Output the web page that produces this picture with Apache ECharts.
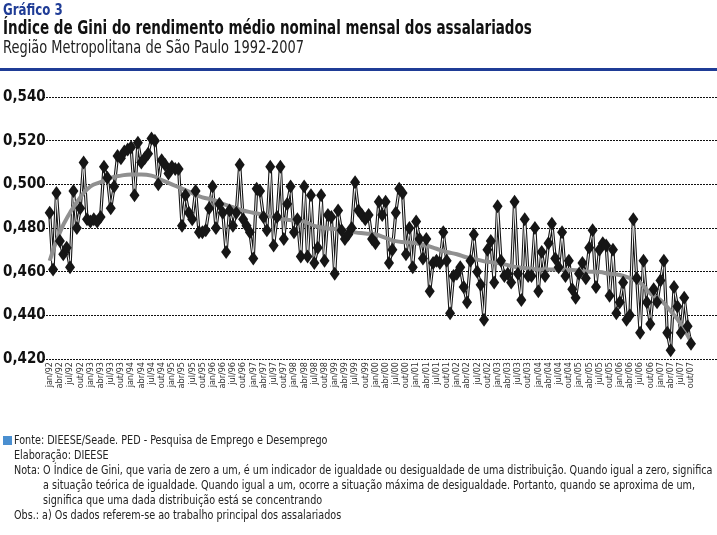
<!DOCTYPE html>
<html>
<head>
<meta charset="utf-8">
<script src="https://cdn.jsdelivr.net/npm/echarts@6/dist/echarts.min.js"></script>
<style>
html,body{margin:0;padding:0;background:#fff;}
#chart{width:717px;height:535px;}
</style>
</head>
<body>
<div id="chart"></div>
<script>
var FONT = "'DejaVu Sans Condensed','Liberation Sans Narrow',sans-serif";

var monthNames = ['jan','fev','mar','abr','mai','jun','jul','ago','set','out','nov','dez'];
var years = ['92','93','94','95','96','97','98','99','00','01','02','03','04','05','06','07'];
var lastMonthIndex2007 = 9; // out/07

var categories = [];
years.forEach(function (yy, yi) {
  monthNames.forEach(function (m, mi) {
    if (yi === years.length - 1 && mi > lastMonthIndex2007) return;
    categories.push(m + '/' + yy);
  });
});

// Monthly Gini index (jan/92 - out/07)
var gini = [
  0.487,0.461,0.496,0.474,0.468,0.471,0.462,0.497,0.480,0.489,0.510,0.484,
  0.483,0.484,0.483,0.485,0.508,0.503,0.489,0.499,0.513,0.512,0.515,0.516,
  0.517,0.495,0.519,0.510,0.512,0.514,0.521,0.520,0.500,0.511,0.509,0.505,
  0.508,0.507,0.507,0.481,0.495,0.487,0.484,0.497,0.478,0.478,0.479,0.489,
  0.499,0.480,0.491,0.487,0.469,0.488,0.481,0.487,0.509,0.484,0.481,0.478,
  0.466,0.498,0.497,0.485,0.479,0.508,0.472,0.485,0.508,0.475,0.491,0.499,
  0.478,0.484,0.467,0.499,0.467,0.495,0.464,0.471,0.495,0.465,0.486,0.485,
  0.459,0.488,0.479,0.475,0.477,0.480,0.501,0.488,0.486,0.484,0.486,0.475,
  0.473,0.492,0.486,0.492,0.464,0.470,0.487,0.498,0.496,0.468,0.480,0.462,
  0.483,0.475,0.466,0.475,0.451,0.464,0.465,0.464,0.478,0.465,0.441,0.458,
  0.459,0.462,0.453,0.446,0.465,0.477,0.460,0.454,0.438,0.470,0.474,0.455,
  0.490,0.465,0.458,0.459,0.455,0.492,0.459,0.447,0.484,0.458,0.458,0.480,
  0.451,0.469,0.458,0.473,0.482,0.466,0.462,0.478,0.458,0.465,0.452,0.448,
  0.459,0.464,0.457,0.471,0.479,0.453,0.470,0.473,0.472,0.449,0.470,0.441,
  0.446,0.455,0.438,0.440,0.484,0.457,0.432,0.465,0.446,0.436,0.452,0.446,
  0.456,0.465,0.432,0.424,0.453,0.444,0.432,0.448,0.435,0.427
];

// Trend line, read quarterly (jan, abr, jul, out of each year)
var trendQuarterly = [
  0.465,0.478,0.487,0.494, 0.499,0.501,0.503,0.504, 0.5045,0.5045,0.504,0.502,
  0.500,0.498,0.496,0.494, 0.493,0.491,0.4895,0.488, 0.487,0.486,0.485,0.484,
  0.4835,0.483,0.481,0.480, 0.4795,0.479,0.478,0.4775, 0.477,0.4755,0.474,0.4735,
  0.473,0.472,0.4705,0.469, 0.468,0.4665,0.4655,0.4645, 0.464,0.463,0.462,0.4615,
  0.461,0.461,0.461,0.4608, 0.4605,0.460,0.4598,0.459, 0.4585,0.457,0.455,0.450,
  0.447,0.442,0.436,0.428
];

var yTicks = { min: 0.42, max: 0.54, step: 0.02 };

var trendData = categories.map(function (c, i) {
  return (i % 3 === 0) ? trendQuarterly[i / 3] : null;
});

var chart = echarts.init(document.getElementById('chart'), null, { renderer: 'canvas' });

var plotTop = 97, plotBottom = 535 - 359;

function txt(x, y, text, font, fill, sx) {
  return {
    type: 'text', x: x, y: y, scaleX: sx, originX: 0, originY: 0,
    style: { text: text, font: font, fill: fill, verticalAlign: 'top', align: 'left' }
  };
}

var FOOT = '12px ' + FONT, FS = 0.893, FC = '#222';

var option = {
  animation: false,
  backgroundColor: '#ffffff',
  textStyle: { fontFamily: FONT },
  grid: [
    { left: 47, right: 26, top: plotTop, bottom: plotBottom, containLabel: false },
    { left: 43, right: 0, top: plotTop, bottom: plotBottom, containLabel: false }
  ],
  xAxis: [
    {
      type: 'category', gridIndex: 0, data: categories, boundaryGap: false,
      axisLine: { show: false }, axisTick: { show: false },
      axisLabel: {
        interval: 2, rotate: 90, fontSize: 9, color: '#333', margin: 3,
        fontFamily: FONT
      },
      splitLine: { show: false }
    },
    {
      type: 'value', gridIndex: 1, min: 0, max: 1, show: false
    }
  ],
  yAxis: [
    {
      type: 'value', gridIndex: 0, min: yTicks.min, max: yTicks.max, interval: yTicks.step,
      axisLine: { show: false }, axisTick: { show: false },
      axisLabel: {
        fontSize: 15, fontWeight: 'bold', color: '#111', margin: 4, fontFamily: FONT,
        formatter: function (v) { return v.toFixed(3).replace('.', ','); }
      },
      splitLine: { show: false }
    },
    {
      type: 'value', gridIndex: 1, min: yTicks.min, max: yTicks.max, interval: yTicks.step,
      axisLine: { show: false }, axisTick: { show: false }, axisLabel: { show: false },
      splitLine: { show: true, lineStyle: { color: '#111', type: [2, 1], width: 1.2 } }
    }
  ],
  series: [
    {
      type: 'line', xAxisIndex: 1, yAxisIndex: 1, data: [], silent: true
    },
    {
      type: 'line', data: gini, showSymbol: false, symbol: 'none',
      lineStyle: { color: '#151515', width: 3.2 }, z: 2
    },
    {
      type: 'line', data: gini, showSymbol: false, symbol: 'none',
      lineStyle: { color: '#ffffff', width: 1 }, z: 3
    },
    {
      type: 'line', data: trendData, connectNulls: true, smooth: true,
      showSymbol: false, symbol: 'none',
      lineStyle: { color: '#909090', width: 4 }, z: 4
    },
    {
      type: 'scatter', data: gini, symbol: 'diamond', symbolSize: [10, 14],
      itemStyle: { color: '#161616', opacity: 1 }, z: 5
    }
  ],
  graphic: [
    txt(3, 3, 'Gráfico 3', 'bold 16px ' + FONT, '#1f3c96', 0.82),
    txt(3, 19, 'Índice de Gini do rendimento médio nominal mensal dos assalariados', 'bold 20px ' + FONT, '#111', 0.75),
    txt(3, 40, 'Região Metropolitana de São Paulo 1992-2007', '17px ' + FONT, '#222', 0.85),
    { type: 'rect', shape: { x: 0, y: 68, width: 717, height: 3 }, style: { fill: '#1f3c96' } },
    { type: 'rect', shape: { x: 3, y: 436, width: 9, height: 9 }, style: { fill: '#4a8fd0' } },
    txt(14, 435, 'Fonte: DIEESE/Seade. PED - Pesquisa de Emprego e Desemprego', FOOT, FC, FS),
    txt(14, 450, 'Elaboração: DIEESE', FOOT, FC, FS),
    txt(14, 465, 'Nota: O Índice de Gini, que varia de zero a um, é um indicador de igualdade ou desigualdade de uma distribuição. Quando igual a zero, significa', FOOT, FC, FS),
    txt(43, 480, 'a situação teórica de igualdade. Quando igual a um, ocorre a situação máxima de desigualdade. Portanto, quando se aproxima de um,', FOOT, FC, FS),
    txt(43, 495, 'significa que uma dada distribuição está se concentrando', FOOT, FC, FS),
    txt(14, 510, 'Obs.: a) Os dados referem-se ao trabalho principal dos assalariados', FOOT, FC, FS)
  ]
};

chart.setOption(option);
</script>
</body>
</html>
